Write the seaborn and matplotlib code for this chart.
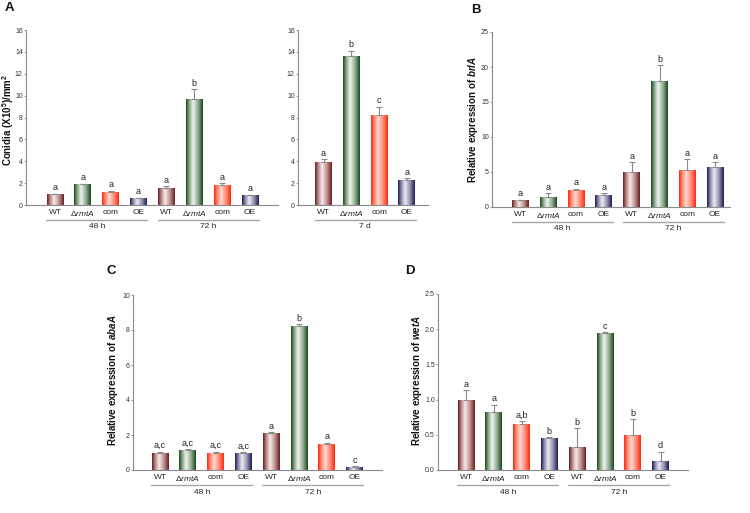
"""
Conidiation and gene expression bar panels (A-D), recreated with seaborn.
"""

import numpy as np
import pandas as pd
import matplotlib
matplotlib.use("Agg")
import matplotlib.pyplot as plt
import matplotlib.transforms as mtransforms
from matplotlib.colors import LinearSegmentedColormap, to_rgb
import seaborn as sns

# ---------------- data ----------------
strains = ["WT", "ΔrmtA", "com", "OE"]
strain_labels = ["WT", r"$\Delta\mathit{rmtA}$", "com", "OE"]
times = ["48 h", "72 h"]

conidia_48_72 = [1.0, 1.9, 1.2, 0.62, 1.55, 9.7, 1.85, 0.9]
conidia_48_72_err = [0.03, 0.06, 0.1, 0.06, 0.15, 0.9, 0.15, 0.06]
conidia_48_72_sig = ["a", "a", "a", "a", "a", "b", "a", "a"]

conidia_7d = [3.9, 13.6, 8.25, 2.3]
conidia_7d_err = [0.3, 0.5, 0.75, 0.15]
conidia_7d_sig = ["a", "b", "c", "a"]

brlA = [1.0, 1.4, 2.4, 1.7, 5.0, 18.0, 5.3, 5.7]
brlA_err = [0.05, 0.6, 0.2, 0.3, 1.4, 2.3, 1.5, 0.7]
brlA_sig = ["a", "a", "a", "a", "a", "b", "a", "a"]

abaA = [1.0, 1.15, 1.0, 1.0, 2.1, 8.25, 1.5, 0.2]
abaA_err = [0.05, 0.05, 0.05, 0.04, 0.05, 0.08, 0.05, 0.03]
abaA_sig = ["a,c", "a,c", "a,c", "a,c", "a", "b", "a", "c"]

wetA = [1.0, 0.83, 0.66, 0.45, 0.33, 1.94, 0.50, 0.13]
wetA_err = [0.13, 0.1, 0.03, 0.02, 0.26, 0.02, 0.22, 0.13]
wetA_sig = ["a", "a", "a,b", "b", "b", "c", "b", "d"]

# bar shading: (edge colour, centre highlight)
strain_colors = {
    "WT": ("#6a1f1f", "#fbe9e9"),
    "ΔrmtA": ("#1c4a1c", "#eef6ee"),
    "com": ("#ff2a0a", "#ffd9cf"),
    "OE": ("#1e1e55", "#ececf6"),
}

W, H = 750, 513
GRAY = "#8a8a8a"

sns.set_style("white")
plt.rcParams["font.family"] = ["Liberation Sans", "DejaVu Sans"]
plt.rcParams["mathtext.fontset"] = "custom"
plt.rcParams["mathtext.rm"] = "Liberation Sans"
plt.rcParams["mathtext.it"] = "Liberation Sans:italic"
plt.rcParams["mathtext.bf"] = "Liberation Sans:bold"
plt.rcParams["mathtext.bfit"] = "Liberation Sans:italic:bold"

fig = plt.figure(figsize=(W / 100, H / 100), dpi=100)


def make_cmap(dark, light):
    d = np.array(to_rgb(dark))
    l = np.array(to_rgb(light))
    mid = d * 0.45 + l * 0.55
    return LinearSegmentedColormap.from_list(
        "bar", [(0, d), (0.2, mid), (0.42, l), (0.72, mid), (1, d)])


def panel(px, values, errs, sigs, ymax, ystep, groups, yfmt="{:g}"):
    """px = (x0, x1, ytop, ybottom, first bar centre, bar spacing) in pixels."""
    x0, x1, yt, yb, c0, sp = px
    ax = fig.add_axes([x0 / W, 1 - yb / H, (x1 - x0) / W, (yb - yt) / H])

    n = len(values)
    slots = [f"{strains[i % 4]} {i // 4}" for i in range(n)]
    bar_strain = [strains[i % 4] for i in range(n)]
    df = pd.DataFrame({"slot": slots, "value": values, "strain": bar_strain})
    sns.barplot(data=df, x="slot", y="value", hue="strain", order=slots,
                palette={k: v[0] for k, v in strain_colors.items()},
                saturation=1, dodge=False, width=17 / sp, errorbar=None,
                legend=False, linewidth=0, ax=ax)

    # cylinder-like shading on every bar (matched to strain by bar centre)
    grad = np.linspace(0, 1, 64).reshape(1, -1)
    for p in list(ax.patches):
        if p.get_height() <= 0:
            continue
        idx = int(round(p.get_x() + p.get_width() / 2))
        cmap = make_cmap(*strain_colors[bar_strain[idx]])
        im = ax.imshow(grad, cmap=cmap, aspect="auto", interpolation="bilinear",
                       extent=(p.get_x(), p.get_x() + p.get_width(), 0, p.get_height()),
                       zorder=p.get_zorder() + 0.1)
        im.set_clip_path(p)

    xs = np.arange(n)
    ax.errorbar(xs, values, yerr=[np.zeros(n), errs], fmt="none", ecolor=GRAY,
                elinewidth=0.8, capsize=2, capthick=0.8, zorder=5)
    for x, v, e, s in zip(xs, values, errs, sigs):
        ax.annotate(s, (x, v + e), xytext=(0, 1), textcoords="offset points",
                    ha="center", va="bottom", fontsize=6.5, color="#222222")

    ax.set_xlim((x0 - c0) / sp, (x1 - c0) / sp)
    ax.set_ylim(0, ymax)
    ticks = np.arange(0, ymax + ystep / 2, ystep)
    ax.set_yticks(ticks, [yfmt.format(t) for t in ticks])
    ax.set_xticks(xs, [strain_labels[i % 4] for i in range(n)])
    ax.tick_params(axis="x", length=0, pad=3.2, labelsize=6, labelcolor="#222222")
    ax.tick_params(axis="y", length=1.5, width=0.6, color=GRAY, pad=0.8,
                   labelsize=5, labelcolor="#333333", left=True)
    for side in ["top", "right"]:
        ax.spines[side].set_visible(False)
    for side in ["left", "bottom"]:
        ax.spines[side].set_color(GRAY)
        ax.spines[side].set_linewidth(0.8)
    ax.set_xlabel("")
    ax.set_ylabel("")

    line_tr = mtransforms.offset_copy(ax.get_xaxis_transform(), fig=fig, y=-15, units="dots")
    text_tr = mtransforms.offset_copy(ax.get_xaxis_transform(), fig=fig, y=-22, units="dots")
    for g, name in enumerate(groups):
        a, b = g * 4, g * 4 + 3
        ax.plot([a - 0.32, b + 0.32], [0, 0], color="#a5a5a5", lw=1.0,
                transform=line_tr, clip_on=False)
        ax.text((a + b) / 2, 0, name, transform=text_tr, ha="center", va="center",
                fontsize=6, color="#222222")
    return ax


panel((26, 278, 30, 205, 55, 27.86), conidia_48_72, conidia_48_72_err,
      conidia_48_72_sig, 16, 2, times)
panel((298, 428, 30, 205, 323.5, 27.83), conidia_7d, conidia_7d_err,
      conidia_7d_sig, 16, 2, ["7 d"])
panel((492, 730, 32, 207, 520.5, 27.8), brlA, brlA_err, brlA_sig, 25, 5, times)
panel((133, 382, 295, 470, 160, 27.8), abaA, abaA_err, abaA_sig, 10, 2, times)
panel((438, 688, 294, 470, 466, 27.8), wetA, wetA_err, wetA_sig, 2.5, 0.5, times,
      yfmt="{:.1f}")

# y labels and panel letters (pixel positions)
ylabels = [
    (8, 120, r"Conidia (X10$^{\mathbf{5}}$)/mm$^{\mathbf{2}}$"),
    (473, 119.5, r"Relative expression of $\mathbfit{brlA}$"),
    (113, 380, r"Relative expression of $\mathbfit{abaA}$"),
    (417, 381, r"Relative expression of $\mathbfit{wetA}$"),
]
for x, y, s in ylabels:
    fig.text(x / W, 1 - y / H, s, rotation=90, ha="center", va="center",
             fontsize=7, fontweight="bold", color="#111111")

for x, y, s in [(9.5, 8, "A"), (476, 10, "B"), (111, 271, "C"), (410, 271, "D")]:
    fig.text(x / W, 1 - y / H, s, ha="center", va="center", fontsize=9.5,
             fontweight="bold", color="#111111")

fig.savefig("out.png", dpi=100)
